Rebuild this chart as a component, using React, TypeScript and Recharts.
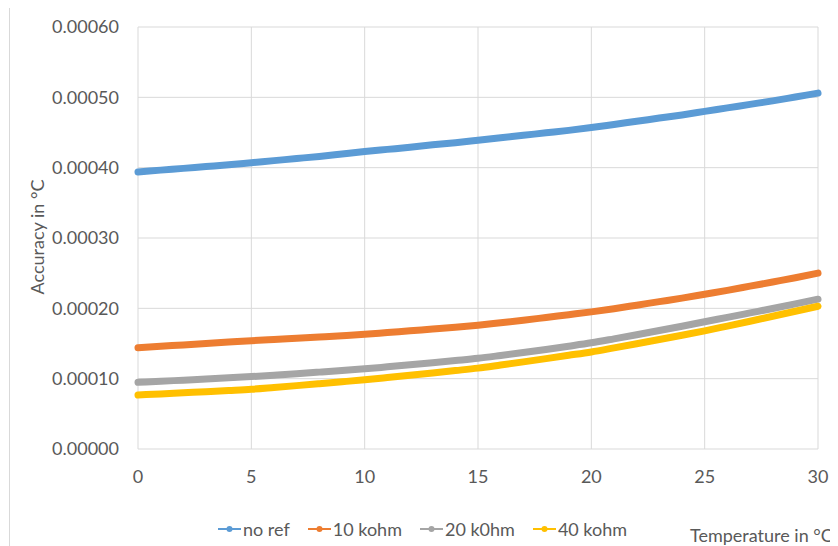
import { LineChart, Line, XAxis, YAxis, CartesianGrid, Legend } from 'recharts';

// temperature in °C
const temps = [
  0, 1, 2, 3, 4, 5, 6, 7, 8, 9, 10, 11, 12, 13, 14, 15,
  16, 17, 18, 19, 20, 21, 22, 23, 24, 25, 26, 27, 28, 29, 30,
];

// accuracy in °C, one value per degree
const noRef = [
  0.0003940, 0.0003965, 0.0003990, 0.0004015, 0.0004040, 0.0004070, 0.0004100, 0.0004130,
  0.0004160, 0.0004195, 0.0004230, 0.0004260, 0.0004290, 0.0004325, 0.0004355, 0.0004390,
  0.0004425, 0.0004460, 0.0004495, 0.0004530, 0.0004570, 0.0004615, 0.0004660, 0.0004705,
  0.0004750, 0.0004800, 0.0004850, 0.0004900, 0.0004950, 0.0005005, 0.0005060,
];
const kohm10 = [
  0.0001440, 0.0001460, 0.0001480, 0.0001500, 0.0001520, 0.0001540, 0.0001558, 0.0001575,
  0.0001592, 0.0001610, 0.0001630, 0.0001655, 0.0001680, 0.0001705, 0.0001730, 0.0001760,
  0.0001795, 0.0001830, 0.0001870, 0.0001910, 0.0001950, 0.0001995, 0.0002045, 0.0002095,
  0.0002145, 0.0002200, 0.0002255, 0.0002315, 0.0002375, 0.0002435, 0.0002500,
];
const kohm20 = [
  0.0000948, 0.0000963, 0.0000979, 0.0000995, 0.0001012, 0.0001030, 0.0001050, 0.0001071,
  0.0001093, 0.0001116, 0.0001140, 0.0001168, 0.0001197, 0.0001227, 0.0001258, 0.0001290,
  0.0001330, 0.0001372, 0.0001416, 0.0001462, 0.0001510, 0.0001566, 0.0001624, 0.0001684,
  0.0001746, 0.0001810, 0.0001872, 0.0001935, 0.0001998, 0.0002063, 0.0002130,
];
const kohm40 = [
  0.0000768, 0.0000783, 0.0000799, 0.0000815, 0.0000832, 0.0000850, 0.0000875, 0.0000901,
  0.0000928, 0.0000956, 0.0000985, 0.0001016, 0.0001048, 0.0001081, 0.0001115, 0.0001150,
  0.0001194, 0.0001239, 0.0001285, 0.0001332, 0.0001380, 0.0001438, 0.0001497, 0.0001557,
  0.0001618, 0.0001680, 0.0001748, 0.0001817, 0.0001887, 0.0001958, 0.0002030,
];

const xTicks = [0, 5, 10, 15, 20, 25, 30];
const yTicks = [0, 0.0001, 0.0002, 0.0003, 0.0004, 0.0005, 0.0006];

const seriesDefs = [
  { key: 'noRef', name: 'no ref', color: '#5B9BD5' },
  { key: 'k10', name: '10 kohm', color: '#ED7D31' },
  { key: 'k20', name: '20 k0hm', color: '#A5A5A5' },
  { key: 'k40', name: '40 kohm', color: '#FFC000' },
];

const data = temps.map((t, i) => ({
  t,
  noRef: noRef[i],
  k10: kohm10[i],
  k20: kohm20[i],
  k40: kohm40[i],
}));

const FONT = 'Lato, "Open Sans", sans-serif';
const TEXT = '#595959';

function LegendContent() {
  return (
    <div style={{ display: 'flex', alignItems: 'center', height: 24, fontFamily: FONT, fontSize: 18, color: TEXT }}>
      {seriesDefs.map((s) => (
        <div key={s.key} style={{ display: 'flex', alignItems: 'center', marginRight: 18 }}>
          <svg width={23} height={10} style={{ marginRight: 2 }}>
            <line x1={0} y1={5} x2={23} y2={5} stroke={s.color} strokeWidth={2} />
            <circle cx={11.5} cy={5} r={3} fill={s.color} />
          </svg>
          <span style={{ whiteSpace: 'nowrap' }}>{s.name}</span>
        </div>
      ))}
    </div>
  );
}

export default function App() {
  return (
    <div
      style={{
        position: 'relative',
        left: 1,
        top: -1,
        width: 828,
        height: 538,
        borderLeft: '1px solid #d9d9d9',
        borderTop: '1px solid #d9d9d9',
        background: '#fff',
      }}
    >
      <LineChart width={828} height={538} data={data} margin={{ top: 19, right: 20, bottom: 67, left: 0 }}>
        <CartesianGrid stroke="#d9d9d9" strokeWidth={1} />
        <XAxis
          dataKey="t"
          type="number"
          domain={[0, 30]}
          ticks={xTicks}
          axisLine={false}
          tickLine={false}
          tickSize={0}
          tickMargin={21}
          height={30}
          tick={{ fill: TEXT, fontSize: 18, fontFamily: FONT }}
        />
        <YAxis
          type="number"
          domain={[0, 0.0006]}
          ticks={yTicks}
          width={128}
          axisLine={false}
          tickLine={false}
          tickSize={0}
          tickMargin={19}
          tickFormatter={(v: number) => v.toFixed(5)}
          tick={{ fill: TEXT, fontSize: 18, fontFamily: FONT }}
        />
        <Legend
          layout="horizontal"
          verticalAlign="middle"
          align="center"
          wrapperStyle={{ left: 208, top: 509, width: 480 }}
          content={() => <LegendContent />}
        />
        {seriesDefs.map((s) => (
          <Line
            key={s.key}
            type="monotone"
            dataKey={s.key}
            name={s.name}
            stroke={s.color}
            strokeWidth={7}
            strokeLinecap="round"
            dot={false}
            activeDot={false}
            isAnimationActive={false}
          />
        ))}
        <text
          x={27}
          y={229}
          transform="rotate(-90 27 229)"
          textAnchor="middle"
          dominantBaseline="central"
          fill={TEXT}
          fontSize={18}
          fontFamily={FONT}
        >
          Accuracy in °C
        </text>
        <text x={680} y={534} fill={TEXT} fontSize={18} fontFamily={FONT}>
          Temperature in °C
        </text>
      </LineChart>
    </div>
  );
}
